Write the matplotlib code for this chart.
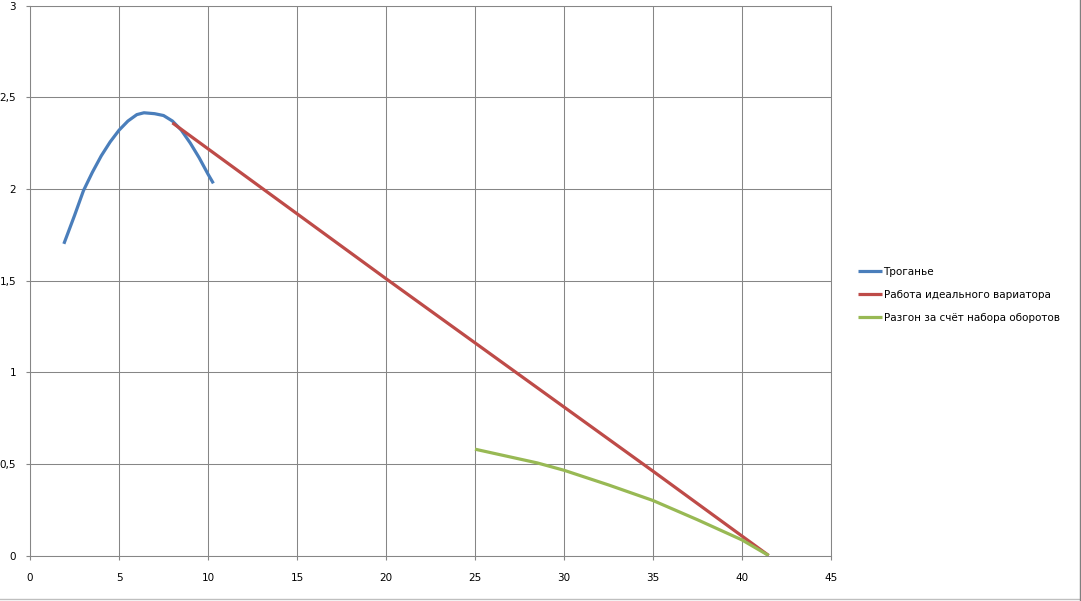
import matplotlib
matplotlib.use("Agg")
import matplotlib.pyplot as plt
from matplotlib.lines import Line2D
from matplotlib.ticker import FuncFormatter

# series (speed vs. ratio)
start_x = [1.9, 2.5, 3, 3.5, 4, 4.5, 5, 5.5, 6, 6.4, 7, 7.5, 8, 8.5, 9, 9.5, 10, 10.3]
start_y = [1.70, 1.855, 1.99, 2.09, 2.18, 2.256, 2.32, 2.37, 2.405, 2.415, 2.41, 2.40,
           2.37, 2.32, 2.25, 2.17, 2.08, 2.03]

cvt_x = [8, 20, 35, 41.5]
cvt_y = [2.36, 1.51, 0.46, 0.0]

rev_x = [25, 28.5, 30, 32.5, 35, 37.5, 40, 41.5]
rev_y = [0.58, 0.505, 0.465, 0.385, 0.30, 0.195, 0.085, 0.0]

labels = ["Троганье", "Работа идеального вариатора", "Разгон за счёт набора оборотов"]
colors = ["#4A7EBB", "#BE4B48", "#98B954"]

x_ticks = [0, 5, 10, 15, 20, 25, 30, 35, 40, 45]
y_ticks = [0, 0.5, 1, 1.5, 2, 2.5, 3]

grid_col = "#868686"

fig = plt.figure(figsize=(10.81, 6.01), dpi=100)
ax = fig.add_axes([0.0278, 0.0757, 0.7409, 0.9151])

for xs, ys, lab, c in zip([start_x, cvt_x, rev_x], [start_y, cvt_y, rev_y], labels, colors):
    ax.plot(xs, ys, color=c, lw=2.3, label=lab, solid_capstyle="butt", solid_joinstyle="round")

ax.set_xlim(0, 45)
ax.set_ylim(0, 3)
ax.set_xticks(x_ticks)
ax.set_yticks(y_ticks)
ax.yaxis.set_major_formatter(FuncFormatter(lambda v, p: f"{v:g}".replace(".", ",")))
ax.grid(True, color=grid_col, lw=0.75)
ax.set_axisbelow(True)
for s in ax.spines.values():
    s.set_color(grid_col)
    s.set_linewidth(0.75)
ax.tick_params(axis="x", length=3, color=grid_col, pad=9.5, labelsize=7.5)
ax.tick_params(axis="y", length=3, color=grid_col, pad=7, labelsize=7.5)

fig.legend(loc="center left", bbox_to_anchor=(0.7937, 0.509), frameon=False,
           fontsize=7.5, handlelength=2.3, handletextpad=0.15, labelspacing=1.25,
           borderpad=0, borderaxespad=0)

# chart area border
fig.add_artist(Line2D([0, 1], [0.004, 0.004], color="#BFBFBF", lw=1))
fig.add_artist(Line2D([0.999, 0.999], [0, 1], color="#7F7F7F", lw=1))

fig.savefig("out.png", dpi=100)
